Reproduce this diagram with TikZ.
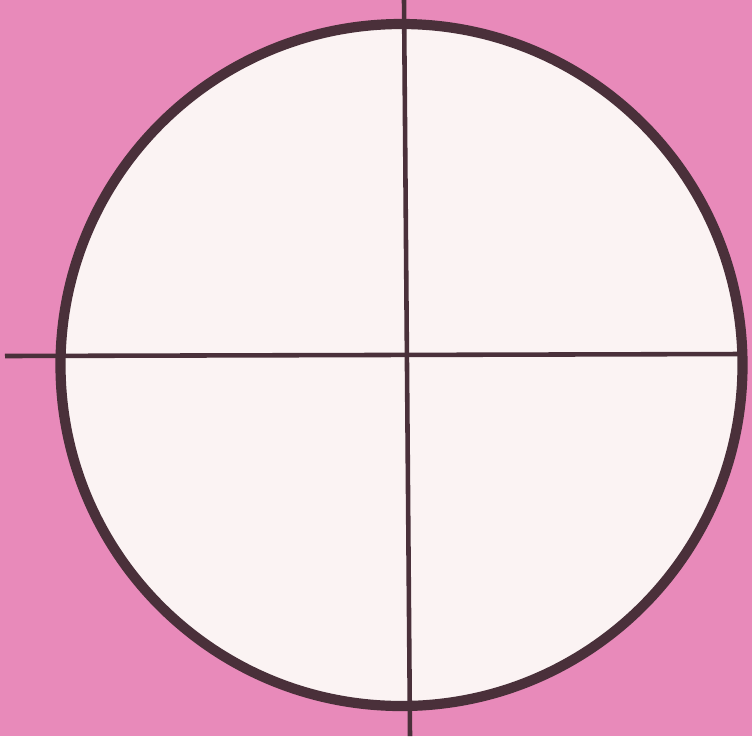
\documentclass[tikz,border=0pt]{standalone}
\usepackage{tikz}
\usetikzlibrary{positioning,calc}
\definecolor{bgpink}{RGB}{232,138,186}
\definecolor{dialfill}{RGB}{251,243,243}
\definecolor{rimdark}{RGB}{74,48,58}

\begin{document}
\begin{tikzpicture}[
  x=0.01cm, y=-0.01cm,
  rim/.style={draw=rimdark, line width=2.9pt, fill=dialfill},
  hair/.style={draw=rimdark, line width=1.3pt}
]
  \fill[bgpink] (0,0) rectangle (752,736);
  \useasboundingbox (0,0) rectangle (752,736);
  \draw[rim] (401.5,365) circle[radius=341];
  \coordinate (ctop) at (404,0);
  \coordinate (cbot) at (410,736);
  \coordinate (cleft) at (5,356);
  \coordinate (cright) at (742,354);
  \draw[hair] (ctop) -- (cbot);
  \draw[hair] (cleft) -- (cright);
\end{tikzpicture}
\end{document}
